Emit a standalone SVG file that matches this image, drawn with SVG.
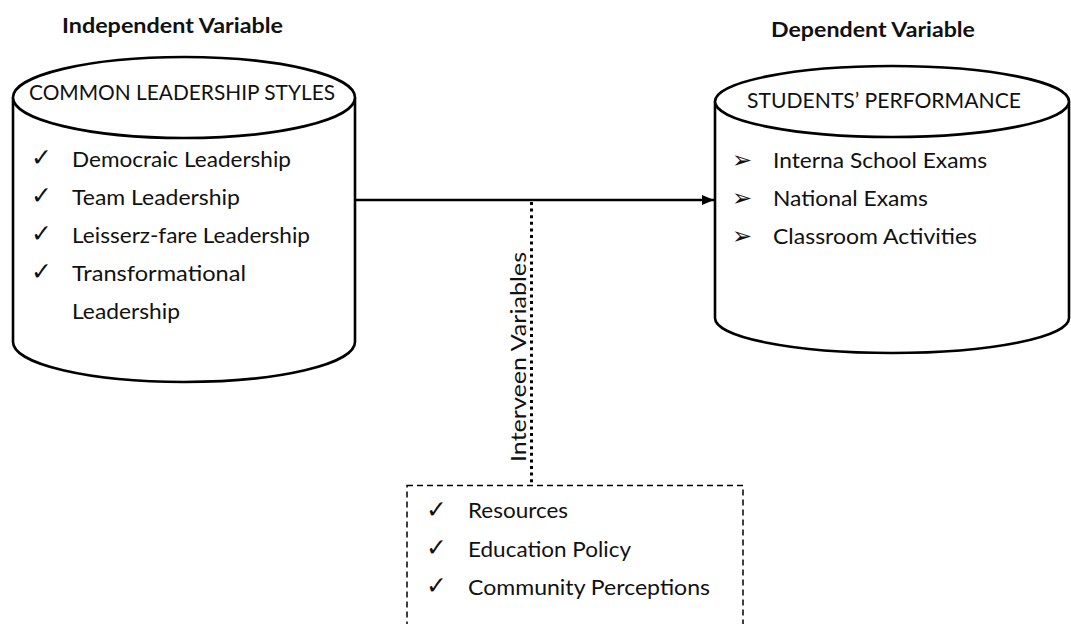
<svg xmlns="http://www.w3.org/2000/svg" width="1071" height="624" viewBox="0 0 1071 624">
  <style>
    .shape { fill: #ffffff; stroke: #000; stroke-width: 2.6; }
    .heading { font-family: Lato, "Liberation Sans", sans-serif; font-weight: bold; font-size: 21px; fill: #111; }
    .label { font-family: Lato, "Liberation Sans", sans-serif; font-size: 21px; fill: #111; }
    .tick { font-family: "DejaVu Sans", sans-serif; font-size: 25px; fill: #111; }
    .pointer { font-family: "DejaVu Sans", sans-serif; font-size: 24px; fill: #111; }
  </style>
  <defs>
    <marker id="arrowhead" markerWidth="12" markerHeight="10" refX="12" refY="5" orient="auto" markerUnits="userSpaceOnUse">
      <path d="M0,0 L12,5 L0,10 Z" fill="#000"/>
    </marker>
  </defs>
  <rect width="1071" height="624" fill="#ffffff"/>

  <!-- connectors -->
  <g id="connectors">
    <line x1="355" y1="200" x2="714" y2="200" stroke="#000" stroke-width="2.6" marker-end="url(#arrowhead)"/>
    <line x1="531.5" y1="202" x2="531.5" y2="484" stroke="#000" stroke-width="3" stroke-dasharray="3 3.6"/>
  </g>

  <text class="heading" x="62" y="33" textLength="221" lengthAdjust="spacingAndGlyphs">Independent Variable</text>
  <text class="heading" x="771" y="37" textLength="204" lengthAdjust="spacingAndGlyphs">Dependent Variable</text>

  <!-- independent variable cylinder -->
  <g id="leadership-styles">
    <path class="shape" d="M13,97.5 L13,342 A171,40 0 0 0 355,342 L355,97.5"/>
    <ellipse class="shape" cx="184" cy="97.5" rx="171" ry="40.5"/>
    <text class="label" x="29" y="100" textLength="306" lengthAdjust="spacingAndGlyphs">COMMON LEADERSHIP STYLES</text>
    <text class="tick" x="31" y="166">✓</text>
    <text class="tick" x="31" y="204">✓</text>
    <text class="tick" x="31" y="242">✓</text>
    <text class="tick" x="31" y="280">✓</text>
    <text class="label" x="72" y="167" textLength="219" lengthAdjust="spacingAndGlyphs">Democraic Leadership</text>
    <text class="label" x="72" y="205" textLength="168" lengthAdjust="spacingAndGlyphs">Team Leadership</text>
    <text class="label" x="72" y="243" textLength="238" lengthAdjust="spacingAndGlyphs">Leisserz-fare Leadership</text>
    <text class="label" x="72" y="281" textLength="174" lengthAdjust="spacingAndGlyphs">Transformational</text>
    <text class="label" x="72" y="319" textLength="108" lengthAdjust="spacingAndGlyphs">Leadership</text>
  </g>

  <!-- dependent variable cylinder -->
  <g id="students-performance">
    <path class="shape" d="M715,101.5 L715,318 A177,35 0 0 0 1069,318 L1069,101.5"/>
    <ellipse class="shape" cx="892" cy="101.5" rx="177" ry="35.5"/>
    <text class="label" x="747" y="108" textLength="274" lengthAdjust="spacingAndGlyphs">STUDENTS’ PERFORMANCE</text>
    <text class="pointer" x="732" y="168">➢</text>
    <text class="pointer" x="732" y="206">➢</text>
    <text class="pointer" x="732" y="244">➢</text>
    <text class="label" x="773" y="168" textLength="214" lengthAdjust="spacingAndGlyphs">Interna School Exams</text>
    <text class="label" x="773" y="206" textLength="155" lengthAdjust="spacingAndGlyphs">National Exams</text>
    <text class="label" x="773" y="244" textLength="204" lengthAdjust="spacingAndGlyphs">Classroom Activities</text>
  </g>

  <!-- intervening variables -->
  <g id="intervening-label">
    <text class="label" transform="translate(526,462) rotate(-90)" textLength="210" lengthAdjust="spacingAndGlyphs">Interveen Variables</text>
  </g>
  <g id="intervening-variables">
    <rect x="407" y="485.5" width="336" height="160" fill="none" stroke="#000" stroke-width="1.5" stroke-dasharray="6 4"/>
    <text class="tick" x="426" y="518">✓</text>
    <text class="tick" x="426" y="556">✓</text>
    <text class="tick" x="426" y="594">✓</text>
    <text class="label" x="468" y="518" textLength="100" lengthAdjust="spacingAndGlyphs">Resources</text>
    <text class="label" x="468" y="557" textLength="163" lengthAdjust="spacingAndGlyphs">Education Policy</text>
    <text class="label" x="468" y="595" textLength="242" lengthAdjust="spacingAndGlyphs">Community Perceptions</text>
  </g>
</svg>
